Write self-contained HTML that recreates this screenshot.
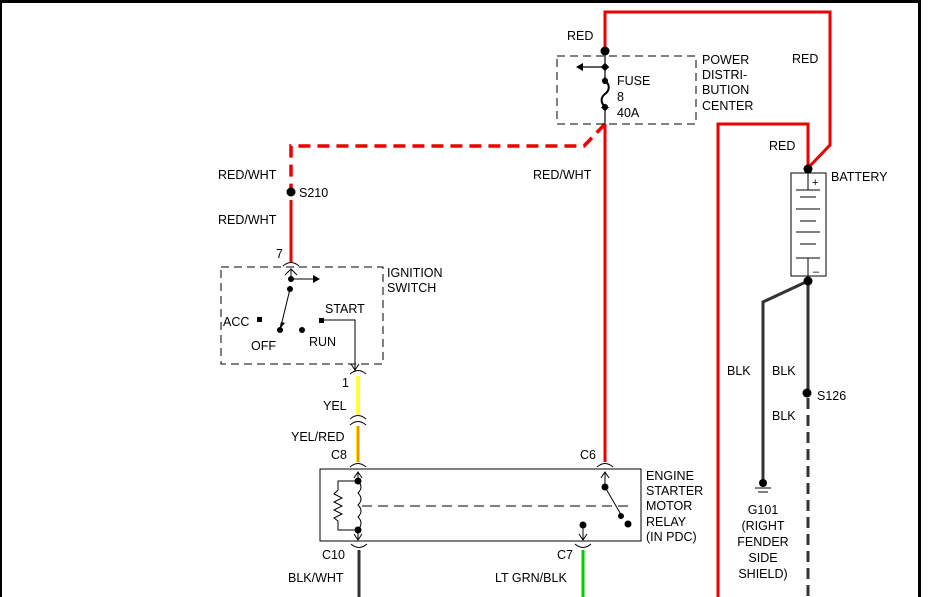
<!DOCTYPE html>
<html><head><meta charset="utf-8"><style>
html,body{margin:0;padding:0;background:#fff;width:929px;height:597px;overflow:hidden}
svg{display:block}
text{font-family:"Liberation Sans",sans-serif;font-size:12.5px;fill:#000}
</style></head><body>
<svg width="929" height="597" viewBox="0 0 929 597">
<rect x="0" y="0" width="929" height="597" fill="#fff"/>
<rect x="0" y="0" width="921" height="3" fill="#000"/>
<rect x="0" y="0" width="2" height="597" fill="#000"/>
<rect x="918" y="0" width="3" height="597" fill="#000"/>

<polyline points="605,50 605,12 830,12 830,145 808,168" fill="none" stroke="#e00" stroke-width="3"/>
<polyline points="808,168 808,124 718,124 718,597" fill="none" stroke="#e00" stroke-width="3"/>
<line x1="605" y1="124" x2="605" y2="462" stroke="#e00" stroke-width="3"/>
<polyline points="605,124 584,146 291,146 291,190" fill="none" stroke="#e00" stroke-width="3.5" stroke-dasharray="12,7"/>
<line x1="291" y1="200" x2="291" y2="262" stroke="#e00" stroke-width="3"/>

<rect x="557" y="56" width="139" height="68" fill="none" stroke="#000" stroke-width="1" stroke-dasharray="8,5"/>
<line x1="605" y1="50" x2="605" y2="124" stroke="#000" stroke-width="1.2"/>
<circle cx="605" cy="51" r="4.5" fill="#000"/>
<line x1="605" y1="67" x2="580" y2="67" stroke="#000" stroke-width="1.2"/>
<polygon points="576,67 583,63 583,71" fill="#000"/>
<rect x="602" y="64" width="6" height="6" transform="rotate(45 605 67)" fill="#000"/>
<rect x="602" y="78" width="6" height="6" transform="rotate(45 605 81)" fill="#000"/>
<rect x="602" y="104" width="6" height="6" transform="rotate(45 605 107)" fill="#000"/>
<rect x="600" y="80" width="10" height="27" fill="#fff"/>
<path d="M605,81 C611,85 609,91 605,94 C601,97 600,102 605,107" fill="none" stroke="#000" stroke-width="2"/>
<circle cx="605" cy="81" r="3" fill="#000"/><circle cx="605" cy="107" r="3" fill="#000"/>
<text x="617" y="85">FUSE</text><text x="617" y="101">8</text><text x="617" y="117">40A</text>
<text x="702" y="64">POWER</text><text x="702" y="79">DISTRI-</text><text x="702" y="94">BUTION</text><text x="702" y="110">CENTER</text>
<text x="567" y="40">RED</text>
<text x="792" y="63">RED</text>
<text x="769" y="150">RED</text>
<text x="533" y="179">RED/WHT</text>
<text x="218" y="179">RED/WHT</text>
<circle cx="291" cy="192" r="4.5" fill="#000"/>
<text x="299" y="197">S210</text>
<text x="218" y="224">RED/WHT</text>

<rect x="791" y="173" width="35" height="103" fill="#fff" stroke="#000" stroke-width="1"/>
<line x1="808" y1="168" x2="808" y2="190" stroke="#000"/>
<line x1="796" y1="190" x2="820" y2="190" stroke="#000"/>
<line x1="800" y1="197" x2="816" y2="197" stroke="#000"/>
<line x1="796" y1="209" x2="820" y2="209" stroke="#000"/>
<line x1="800" y1="221" x2="816" y2="221" stroke="#000"/>
<line x1="796" y1="232" x2="820" y2="232" stroke="#000"/>
<line x1="800" y1="244" x2="816" y2="244" stroke="#000"/>
<line x1="796" y1="258" x2="820" y2="258" stroke="#000"/>
<line x1="808" y1="258" x2="808" y2="281" stroke="#000"/>
<text x="812" y="186" style="font-size:11px">+</text>
<text x="813" y="275" style="font-size:11px">–</text>
<circle cx="808" cy="169" r="4.5" fill="#000"/>
<text x="831" y="181">BATTERY</text>

<polyline points="808,281 763,302 763,480" fill="none" stroke="#333" stroke-width="3"/>
<line x1="808" y1="281" x2="808" y2="393" stroke="#333" stroke-width="3"/>
<line x1="808" y1="398" x2="808" y2="597" stroke="#333" stroke-width="3" stroke-dasharray="11,6"/>
<circle cx="808" cy="281" r="4.5" fill="#000"/>
<circle cx="807" cy="393" r="4.5" fill="#000"/>
<text x="727" y="375">BLK</text><text x="772" y="375">BLK</text>
<text x="817" y="400">S126</text><text x="772" y="420">BLK</text>
<circle cx="763" cy="483" r="4" fill="#000"/>
<line x1="755" y1="488" x2="771" y2="488" stroke="#000"/>
<line x1="758" y1="492" x2="768" y2="492" stroke="#000"/>
<text x="763" y="514" text-anchor="middle">G101</text>
<text x="763" y="530" text-anchor="middle">(RIGHT</text>
<text x="763" y="546" text-anchor="middle">FENDER</text>
<text x="763" y="562" text-anchor="middle">SIDE</text>
<text x="763" y="578" text-anchor="middle">SHIELD)</text>

<text x="276" y="258">7</text>
<path d="M283,266 Q291,259 299,266" fill="none" stroke="#000"/>
<path d="M285,275 L291,269 L297,275" fill="none" stroke="#000"/>
<rect x="221" y="267" width="162" height="97" fill="none" stroke="#000" stroke-dasharray="8,5"/>
<text x="387" y="277">IGNITION</text><text x="387" y="292">SWITCH</text>
<line x1="291" y1="269" x2="291" y2="279" stroke="#000"/>
<line x1="291" y1="279" x2="315" y2="279" stroke="#000"/>
<polygon points="320,279 313,275 313,283" fill="#000"/>
<circle cx="291" cy="279" r="3" fill="#000"/><circle cx="290" cy="289" r="3" fill="#000"/>
<line x1="290" y1="289" x2="281" y2="326" stroke="#000"/>
<polygon points="279,330 281,322 285,323" fill="#000"/>
<rect x="257" y="317" width="5" height="5" fill="#000"/>
<circle cx="280" cy="330" r="3" fill="#000"/>
<circle cx="302" cy="330" r="3" fill="#000"/>
<rect x="319" y="318" width="5" height="5" fill="#000"/>
<polyline points="322,320 355,320 355,372" fill="none" stroke="#000"/>
<path d="M351,364 L355,370 L359,364" fill="none" stroke="#000"/>
<text x="223" y="326">ACC</text><text x="251" y="350">OFF</text>
<text x="309" y="346">RUN</text><text x="325" y="313">START</text>
<path d="M350,374 Q358,367 366,374" fill="none" stroke="#000"/>
<text x="342" y="387">1</text>

<line x1="358" y1="376" x2="358" y2="416" stroke="#ff3" stroke-width="4"/>
<path d="M350,419 Q358,412 366,419" fill="none" stroke="#000"/>
<path d="M350,425 Q358,418 366,425" fill="none" stroke="#000"/>
<line x1="358" y1="426" x2="358" y2="462" stroke="#ffe600" stroke-width="4"/>
<line x1="358" y1="426" x2="358" y2="462" stroke="#d33" stroke-width="1"/>
<text x="323" y="410">YEL</text>
<text x="291" y="441">YEL/RED</text>
<text x="331" y="459">C8</text>
<path d="M350,467 Q358,460 366,467" fill="none" stroke="#000"/>

<rect x="320" y="469" width="321" height="72" fill="none" stroke="#000"/>
<text x="646" y="480">ENGINE</text><text x="646" y="495">STARTER</text><text x="646" y="510">MOTOR</text>
<text x="646" y="526">RELAY</text><text x="646" y="541">(IN PDC)</text>
<path d="M354,478 L358,472 L362,478" fill="none" stroke="#000"/>
<line x1="358" y1="472" x2="358" y2="481" stroke="#000"/>
<line x1="358" y1="530" x2="358" y2="540" stroke="#000"/>
<path d="M354,534 L358,540 L362,534" fill="none" stroke="#000"/>
<circle cx="358" cy="481" r="3.5" fill="#000"/><circle cx="358" cy="530" r="3.5" fill="#000"/>
<path d="M358,481 Q364,487 358,493 Q364,499 358,505 Q364,511 358,517 Q364,523 358,530" fill="none" stroke="#000"/>
<polyline points="358,481 338,481 338,490 334,494 342,498 334,502 342,506 334,510 342,514 334,518 338,521 338,530 358,530" fill="none" stroke="#000"/>
<line x1="362" y1="506" x2="630" y2="506" stroke="#000" stroke-dasharray="10,6"/>
<text x="580" y="459">C6</text>
<path d="M597,467 Q605,460 613,467" fill="none" stroke="#000"/>
<path d="M601,478 L605,472 L609,478" fill="none" stroke="#000"/>
<line x1="605" y1="472" x2="605" y2="487" stroke="#000"/>
<circle cx="605" cy="487" r="3.5" fill="#000"/>
<line x1="605" y1="487" x2="623" y2="518" stroke="#000"/>
<circle cx="621" cy="516" r="3" fill="#000"/><circle cx="628" cy="524" r="3.5" fill="#000"/>
<circle cx="583" cy="525" r="3.5" fill="#000"/>
<line x1="583" y1="525" x2="583" y2="540" stroke="#000"/>
<path d="M579,534 L583,540 L587,534" fill="none" stroke="#000"/>
<path d="M575,544 Q583,551 591,544" fill="none" stroke="#000"/>
<path d="M351,544 Q359,551 367,544" fill="none" stroke="#000"/>
<text x="322" y="559">C10</text><text x="557" y="559">C7</text>
<line x1="359" y1="550" x2="359" y2="597" stroke="#333" stroke-width="3"/>
<line x1="583" y1="550" x2="583" y2="597" stroke="#0c0" stroke-width="3"/>
<text x="288" y="582">BLK/WHT</text>
<text x="495" y="582">LT GRN/BLK</text>
</svg>
</body></html>
